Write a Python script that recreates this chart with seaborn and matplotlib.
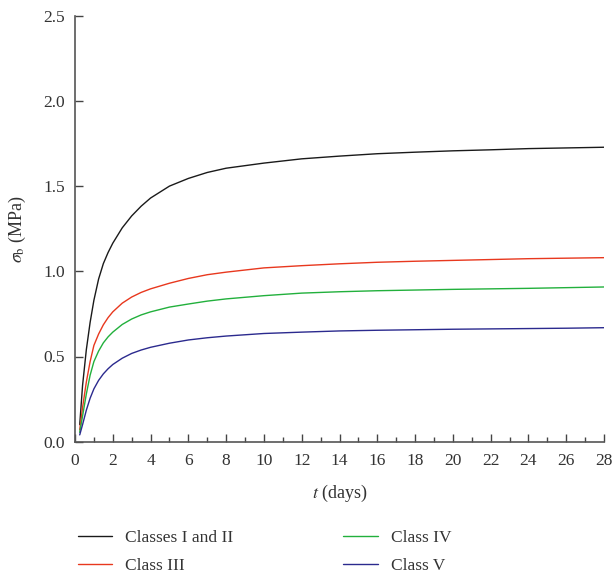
import matplotlib
matplotlib.use("Agg")
import matplotlib.pyplot as plt
import seaborn as sns
import pandas as pd
from matplotlib.ticker import MultipleLocator, FormatStrFormatter

t_days = [0.25, 0.4, 0.6, 0.8, 1.0, 1.25, 1.5, 1.75, 2.0, 2.5, 3.0, 3.5, 4.0, 5.0, 6.0, 7.0, 8.0,
          10, 12, 14, 16, 18, 20, 22, 24, 26, 28]
classes_1_2 = [0.10, 0.33, 0.54, 0.70, 0.83, 0.955, 1.045, 1.11, 1.165, 1.255, 1.325, 1.382, 1.43, 1.50, 1.545,
               1.58, 1.605, 1.635, 1.66, 1.676, 1.69, 1.699, 1.707, 1.713, 1.72, 1.724, 1.728]
class_3 = [0.07, 0.20, 0.35, 0.47, 0.565, 0.632, 0.686, 0.728, 0.762, 0.813, 0.849, 0.876, 0.897, 0.93, 0.958,
           0.98, 0.995, 1.02, 1.033, 1.044, 1.053, 1.059, 1.064, 1.069, 1.074, 1.077, 1.08]
class_4 = [0.055, 0.15, 0.28, 0.39, 0.47, 0.532, 0.58, 0.615, 0.643, 0.688, 0.72, 0.744, 0.762, 0.79, 0.808,
           0.825, 0.838, 0.857, 0.872, 0.88, 0.886, 0.89, 0.894, 0.897, 0.90, 0.904, 0.908]
class_5 = [0.04, 0.10, 0.185, 0.255, 0.31, 0.36, 0.398, 0.428, 0.453, 0.49, 0.518, 0.538, 0.554, 0.578, 0.597,
           0.61, 0.62, 0.635, 0.643, 0.65, 0.654, 0.657, 0.66, 0.662, 0.664, 0.666, 0.669]
labels = ["Classes I and II", "Class III", "Class IV", "Class V"]
colors = ["#1a1a1a", "#e8381e", "#22b03c", "#2b2a8e"]

rows = []
for lab, vals in zip(labels, [classes_1_2, class_3, class_4, class_5]):
    for t, v in zip(t_days, vals):
        rows.append({"t": t, "sigma": v, "cls": lab})
df = pd.DataFrame(rows)

sns.set_style("ticks")
plt.rcParams["font.family"] = ["Liberation Serif", "DejaVu Serif"]
plt.rcParams["mathtext.fontset"] = "stix"

fig = plt.figure(figsize=(6.15, 5.75), dpi=100)
ax = fig.add_axes([75/615, 1-441.7/575, 529/615, (441.7-15.7)/575])
sns.lineplot(data=df, x="t", y="sigma", hue="cls", hue_order=labels,
             palette=colors, linewidth=1.0, ax=ax, legend=True)

ax.set_xlim(0, 28)
ax.set_ylim(0, 2.5)
ax.xaxis.set_major_locator(MultipleLocator(2))
ax.xaxis.set_minor_locator(MultipleLocator(1))
ax.yaxis.set_major_locator(MultipleLocator(0.5))
ax.yaxis.set_major_formatter(FormatStrFormatter("%.1f"))
ax.tick_params(axis="both", which="major", direction="in", length=6, width=1,
               color="#444444", labelsize=12.5, labelcolor="#333333")
ax.tick_params(axis="x", which="minor", direction="in", length=3.5, width=1, color="#444444")
ax.tick_params(axis="x", which="major", pad=8)
ax.tick_params(axis="y", which="major", pad=7)
for s in ["top", "right"]:
    ax.spines[s].set_visible(False)
for s in ["left", "bottom"]:
    ax.spines[s].set_color("#555555")
    ax.spines[s].set_linewidth(1.2)

ax.set_xlabel(r"$t$ (days)", fontsize=13, color="#333333", labelpad=10)
ax.set_ylabel(r"$\sigma_{\rm b}$ (MPa)", fontsize=13, color="#333333", labelpad=11)

handles, labs = ax.get_legend_handles_labels()
ax.get_legend().remove()
fig.legend(handles, labs, loc="upper left", bbox_to_anchor=(62/615, 1-514/575),
           ncol=2, frameon=False, fontsize=12.5, handlelength=2.0,
           handletextpad=0.75, columnspacing=6.3, labelspacing=0.72)
for txt in fig.legends[0].get_texts():
    txt.set_color("#333333")

fig.savefig("out.png", dpi=100)
